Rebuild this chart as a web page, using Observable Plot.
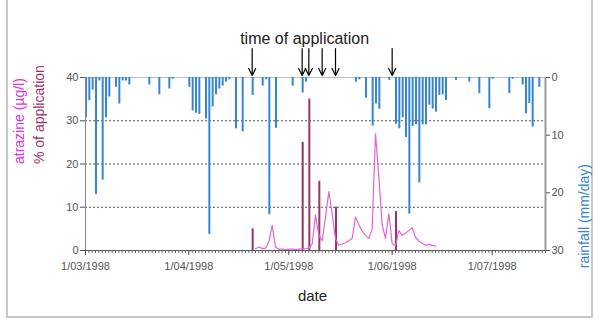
<!DOCTYPE html>
<html><head><meta charset="utf-8">
<script src="https://cdn.jsdelivr.net/npm/d3@7"></script>
<script src="https://cdn.jsdelivr.net/npm/@observablehq/plot@0.6"></script>
<style>
body{margin:0;background:#fff;}
#wrap{position:relative;width:598px;height:320px;overflow:hidden;}
#frame{position:absolute;left:6px;top:-2px;width:583px;height:316px;border:2px solid #c8c8c8;}
#wrap svg{position:absolute;left:0;top:0;}
</style></head><body><div id="wrap"><div id="frame"></div></div>
<script>
// ---- data ----
const axisStart = "1998-03-01";
const axisEnd = "1998-07-17";

const rainDates = ["1998-03-01","1998-03-02","1998-03-03","1998-03-04","1998-03-05","1998-03-06","1998-03-07","1998-03-08","1998-03-10","1998-03-11","1998-03-12","1998-03-13","1998-03-14","1998-03-20","1998-03-23","1998-03-26","1998-03-27",
"1998-04-01","1998-04-02","1998-04-03","1998-04-04","1998-04-06","1998-04-07","1998-04-08","1998-04-09","1998-04-10","1998-04-11","1998-04-12","1998-04-13","1998-04-15","1998-04-17","1998-04-20","1998-04-23","1998-04-24","1998-04-25","1998-04-27",
"1998-05-02","1998-05-05","1998-05-06","1998-05-21","1998-05-22","1998-05-24","1998-05-26","1998-05-27","1998-05-28","1998-05-31",
"1998-06-02","1998-06-03","1998-06-04","1998-06-05","1998-06-06","1998-06-07","1998-06-08","1998-06-09","1998-06-10","1998-06-11","1998-06-12","1998-06-13","1998-06-14","1998-06-15","1998-06-16","1998-06-17","1998-06-20","1998-06-24","1998-06-27","1998-06-30",
"1998-07-01","1998-07-06","1998-07-07","1998-07-10","1998-07-11","1998-07-12","1998-07-13","1998-07-15"];
const rainMM = [7,4,2.2,20.3,0.6,17.8,7,3.4,1.7,4.6,0.6,0.6,1.3,1.3,3,2,0.3,
1.7,5.8,6.2,6.4,7.2,27.2,5.1,3,2,1.5,0.8,0.4,8.9,9.4,3.1,1.5,0.4,23.8,8.8,
1.5,2.7,0.8,0.8,0.4,3.6,8.4,4.6,5.5,0.5,
8.1,8.9,7,10.4,23.7,8.5,8.2,18.3,8.2,8.2,4.8,5.5,6,3.1,3,4,0.5,0.8,2.8,5.4,
0.3,2.8,0.3,1.3,6.3,4.5,8.6,1.7];

const atrazineDates = ["1998-04-21","1998-04-22","1998-04-23","1998-04-24","1998-04-25","1998-04-26","1998-04-27","1998-04-28","1998-04-29","1998-04-30",
"1998-05-01","1998-05-02","1998-05-03","1998-05-04","1998-05-05","1998-05-06","1998-05-07","1998-05-08","1998-05-09","1998-05-10",
"1998-05-11","1998-05-12","1998-05-13","1998-05-14","1998-05-15","1998-05-16","1998-05-17","1998-05-18","1998-05-19","1998-05-20",
"1998-05-21","1998-05-22","1998-05-23","1998-05-24","1998-05-25","1998-05-26","1998-05-27","1998-05-28","1998-05-29","1998-05-30","1998-05-31",
"1998-06-01","1998-06-02","1998-06-03","1998-06-04","1998-06-05","1998-06-06","1998-06-07","1998-06-08","1998-06-09","1998-06-10",
"1998-06-11","1998-06-12","1998-06-13","1998-06-14"];
const atrazineValues = [0.4,0.8,0.5,0.5,2.0,5.8,0.8,0.3,0.3,0.2,
0.3,0.3,0.2,0.3,0.4,0.4,0.5,1.5,8.2,3.5,
2.3,7.7,13.6,8.5,2.7,1.2,1.5,1.8,2.3,2.8,
7.7,6.0,4.5,3.5,2.8,5.0,27.0,17.0,6.0,2.8,8.5,
1.6,1.0,4.6,3.5,4.0,4.6,5.3,3.0,2.2,1.7,
1.2,1.4,1.2,1.0];

const applicationDates = ["1998-04-20","1998-05-05","1998-05-07","1998-05-10","1998-05-15","1998-06-02"];
const applicationPct = [5,25,35,16,10,9];

const arrowDates = ["1998-04-20","1998-05-05","1998-05-07","1998-05-11","1998-05-15","1998-06-01"];

const leftTicks = [0,10,20,30,40];
const rainTicks = [0,10,20,30];
const gridTicks = [10,20,30];
const leftMax = 40, rainMax = 30;

// ---- build ----
const DAY = 864e5;
const BAR = 0.6 * DAY;
const xStart = new Date(axisStart), xEnd = new Date(axisEnd);
const rainToY = mm => leftMax - mm * leftMax / rainMax;
const rain = rainDates.map((d, i) => ({date: new Date(d), mm: rainMM[i]}));
const atr = atrazineDates.map((d, i) => ({date: new Date(d), v: atrazineValues[i]}));
const app = applicationDates.map((d, i) => ({date: new Date(d), pct: applicationPct[i]}));
const arrows = arrowDates.map(d => new Date(d));

const arrowDown = {
  draw(ctx, l) {
    ctx.moveTo(0, -l);
    ctx.lineTo(0, -2);
    ctx.moveTo(-3.5, -9);
    ctx.lineTo(0, -2);
    ctx.lineTo(3.5, -9);
  }
};

const font = "'Liberation Sans', Arial, sans-serif";

const chart = Plot.plot({
  width: 598,
  height: 320,
  marginTop: 77,
  marginBottom: 70,
  marginLeft: 85,
  marginRight: 53,
  style: {fontFamily: font, background: "transparent"},
  x: {type: "utc", domain: [xStart, xEnd]},
  y: {domain: [0, leftMax]},
  marks: [
    Plot.gridY({ticks: gridTicks, stroke: "#333", strokeOpacity: 0.85, strokeDasharray: "2,2"}),
    Plot.ruleY([leftMax], {stroke: "#b4c0cc"}),
    Plot.rect(rain, {x1: "date", x2: d => new Date(+d.date + BAR), y1: leftMax, y2: d => rainToY(d.mm), fill: "#3585d0"}),
    Plot.rect(app, {x1: "date", x2: d => new Date(+d.date + BAR), y1: 0, y2: "pct", fill: "#993366"}),
    Plot.line(atr, {x: "date", y: "v", stroke: "#dd66dd", strokeWidth: 1.2}),
    Plot.ruleX([xStart], {stroke: "#888"}),
    Plot.ruleX([xEnd], {stroke: "#9a9a9a", strokeWidth: 2}),
    Plot.ruleY([0], {stroke: "#555"}),
    Plot.axisX({ticks: d3.utcDay.range(xStart, new Date(+xEnd + DAY)), tickFormat: () => "", tickSize: 3, stroke: "#666", label: null}),
    Plot.axisX({ticks: d3.utcMonth.range(xStart, new Date(+xEnd + DAY)), tickFormat: d3.utcFormat("%-d/%m/%Y"), tickSize: 5, tickPadding: 7, fontSize: 11, color: "#555", label: null}),
    Plot.axisY({ticks: leftTicks, tickSize: 5, tickPadding: 2, fontSize: 11, color: "#555", label: null}),
    Plot.axisY({anchor: "right", ticks: rainTicks.map(rainToY), tickFormat: v => String(Math.round((leftMax - v) * rainMax / leftMax)), tickSize: 4, tickPadding: 2, fontSize: 11, color: "#555", label: null}),
    Plot.vector(arrows, {x: d => d, frameAnchor: "top", anchor: "start", length: 29, shape: arrowDown, stroke: "#000", strokeWidth: 1.2}),
    Plot.text([arrows[0]], {x: d => d, frameAnchor: "top", dy: -45, dx: -12, textAnchor: "start", text: () => "time of application", fontSize: 16, fill: "#222"}),
    Plot.text(["date"], {frameAnchor: "bottom", dy: 50, dx: -3, fontSize: 15, fill: "#222"}),
    Plot.text(["atrazine (µg/l)"], {frameAnchor: "left", rotate: -90, dx: -66, fontSize: 14, fill: "#e030e0"}),
    Plot.text(["% of application"], {frameAnchor: "left", rotate: -90, dx: -46, fontSize: 14, fill: "#993366"}),
    Plot.text(["rainfall (mm/day)"], {frameAnchor: "right", rotate: -90, dx: 39, fontSize: 14, fill: "#3585d0"})
  ]
});
document.getElementById("wrap").appendChild(chart);
</script>
</body></html>
